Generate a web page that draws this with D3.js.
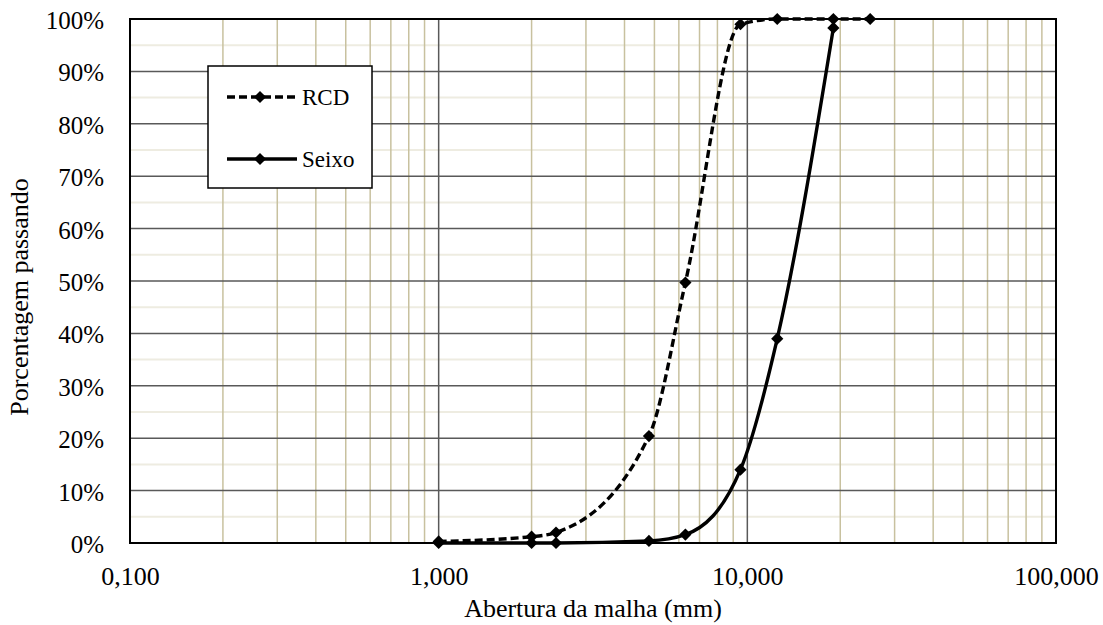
<!DOCTYPE html>
<html>
<head>
<meta charset="utf-8">
<script src="https://cdn.jsdelivr.net/npm/d3@7"></script>
<style>
  body { margin: 0; background: #fff; }
  text { font-family: "Liberation Serif", "Times New Roman", serif; fill: #000; }
</style>
</head>
<body>
<div id="wrapper"></div>
<script>
// sieve openings (mm) and % passing
const rcdX = [1.0, 2.0, 2.4, 4.8, 6.3, 9.5, 12.5, 19, 25];
const rcdY = [0.3, 1.2, 2.0, 20.4, 49.7, 99.0, 100, 100, 100];
const seixoX = [1.0, 2.0, 2.4, 4.8, 6.3, 9.5, 12.5, 19];
const seixoY = [0, 0, 0, 0.4, 1.6, 14.0, 39.0, 98.3];

const xTicks = [0.1, 1, 10, 100];
const xTickLabels = ["0,100", "1,000", "10,000", "100,000"];
const yTicks = [0, 10, 20, 30, 40, 50, 60, 70, 80, 90, 100];

dimensions = {
  width: 1103,
  height: 625,
  margin: {top: 19, left: 130, bottom: 82, right: 47}
}
dimensions.boundedWidth = dimensions.width - dimensions.margin.left - dimensions.margin.right;
dimensions.boundedHeight = dimensions.height - dimensions.margin.top - dimensions.margin.bottom;

wrapper = d3.select("#wrapper").append("svg")
  .attr("width", dimensions.width)
  .attr("height", dimensions.height);
container = wrapper.append("g")
  .attr("transform", `translate(${dimensions.margin.left}, ${dimensions.margin.top})`);

xScale = d3.scaleLog().domain([0.1, 100]).range([0, dimensions.boundedWidth]);
yScale = d3.scaleLinear().domain([0, 100]).range([dimensions.boundedHeight, 0]);

// minor grid
const minorX = [];
[0.1, 1, 10].forEach(d => { for (let k = 2; k <= 9; k++) minorX.push(d * k); });
const minorY = yTicks.slice(0, -1).map(d => d + 5);

container.append("g").selectAll("line")
  .data(minorY).join("line")
  .attr("x1", 0).attr("x2", dimensions.boundedWidth)
  .attr("y1", d => yScale(d)).attr("y2", d => yScale(d))
  .attr("stroke", "#eeece1").attr("stroke-width", 2);

container.append("g").selectAll("line")
  .data(minorX).join("line")
  .attr("x1", d => xScale(d)).attr("x2", d => xScale(d))
  .attr("y1", 0).attr("y2", dimensions.boundedHeight)
  .attr("stroke", "#c8c19f").attr("stroke-width", 1.5);

// major grid
container.append("g").selectAll("line")
  .data(yTicks).join("line")
  .attr("x1", 0).attr("x2", dimensions.boundedWidth)
  .attr("y1", d => yScale(d)).attr("y2", d => yScale(d))
  .attr("stroke", "#595959").attr("stroke-width", 1.5);

container.append("g").selectAll("line")
  .data(xTicks).join("line")
  .attr("x1", d => xScale(d)).attr("x2", d => xScale(d))
  .attr("y1", 0).attr("y2", dimensions.boundedHeight)
  .attr("stroke", "#595959").attr("stroke-width", 1.5);

// border
container.append("rect")
  .attr("width", dimensions.boundedWidth).attr("height", dimensions.boundedHeight)
  .attr("fill", "none").attr("stroke", "#000").attr("stroke-width", 2);

// axes labels
const x_axis_gen = d3.axisBottom(xScale).tickValues(xTicks)
  .tickFormat((d, i) => xTickLabels[i]).tickSize(0).tickPadding(0);
const axisX = container.append("g")
  .attr("transform", `translate(0, ${dimensions.boundedHeight})`)
  .call(x_axis_gen);
axisX.attr("font-family", null);
axisX.select(".domain").remove();
axisX.selectAll("text")
  .attr("dy", null).attr("y", 42)
  .style("font-size", "26px");

const y_axis_gen = d3.axisLeft(yScale).tickValues(yTicks)
  .tickFormat(d => d + "%").tickSize(0).tickPadding(26);
const axisY = container.append("g").call(y_axis_gen);
axisY.attr("font-family", null);
axisY.select(".domain").remove();
axisY.selectAll("text")
  .attr("dy", "0.38em")
  .style("font-size", "25px");

// series
const rcd = rcdX.map((x, i) => ({x: x, y: rcdY[i]}));
const seixo = seixoX.map((x, i) => ({x: x, y: seixoY[i]}));

const line = d3.line()
  .x(d => xScale(d.x)).y(d => yScale(d.y))
  .curve(d3.curveMonotoneX);

container.append("path").datum(seixo)
  .attr("d", line).attr("fill", "none")
  .attr("stroke", "#000").attr("stroke-width", 3.4);
container.append("path").datum(rcd)
  .attr("d", line).attr("fill", "none")
  .attr("stroke", "#000").attr("stroke-width", 3.4)
  .attr("stroke-dasharray", "8,4");

const diamond = d3.symbol().type(d3.symbolDiamond2).size(95);
[seixo, rcd].forEach(s => {
  container.append("g").selectAll("path")
    .data(s).join("path")
    .attr("d", diamond)
    .attr("fill", "#000")
    .attr("transform", d => `translate(${xScale(d.x)},${yScale(d.y)})`);
});

// legend
const legend = wrapper.append("g");
legend.append("rect")
  .attr("x", 208).attr("y", 66).attr("width", 164).attr("height", 122)
  .attr("fill", "#fff").attr("stroke", "#000").attr("stroke-width", 1.5);
const legendItems = [{name: "RCD", dash: "8,4", y: 97}, {name: "Seixo", dash: null, y: 159}];
legendItems.forEach(item => {
  legend.append("line")
    .attr("x1", 227).attr("x2", 297).attr("y1", item.y).attr("y2", item.y)
    .attr("stroke", "#000").attr("stroke-width", 3.4)
    .attr("stroke-dasharray", item.dash);
  legend.append("path")
    .attr("d", diamond)
    .attr("transform", `translate(260,${item.y})`);
  legend.append("text")
    .attr("x", 302).attr("y", item.y + 8)
    .style("font-size", "23px")
    .text(item.name);
});

// axis titles
wrapper.append("text")
  .attr("x", dimensions.margin.left + dimensions.boundedWidth / 2)
  .attr("y", 617)
  .attr("text-anchor", "middle")
  .style("font-size", "26px")
  .text("Abertura da malha (mm)");
wrapper.append("text")
  .attr("transform", "translate(28, 297) rotate(-90)")
  .attr("text-anchor", "middle")
  .style("font-size", "26px")
  .text("Porcentagem passando");
</script>
</body>
</html>
